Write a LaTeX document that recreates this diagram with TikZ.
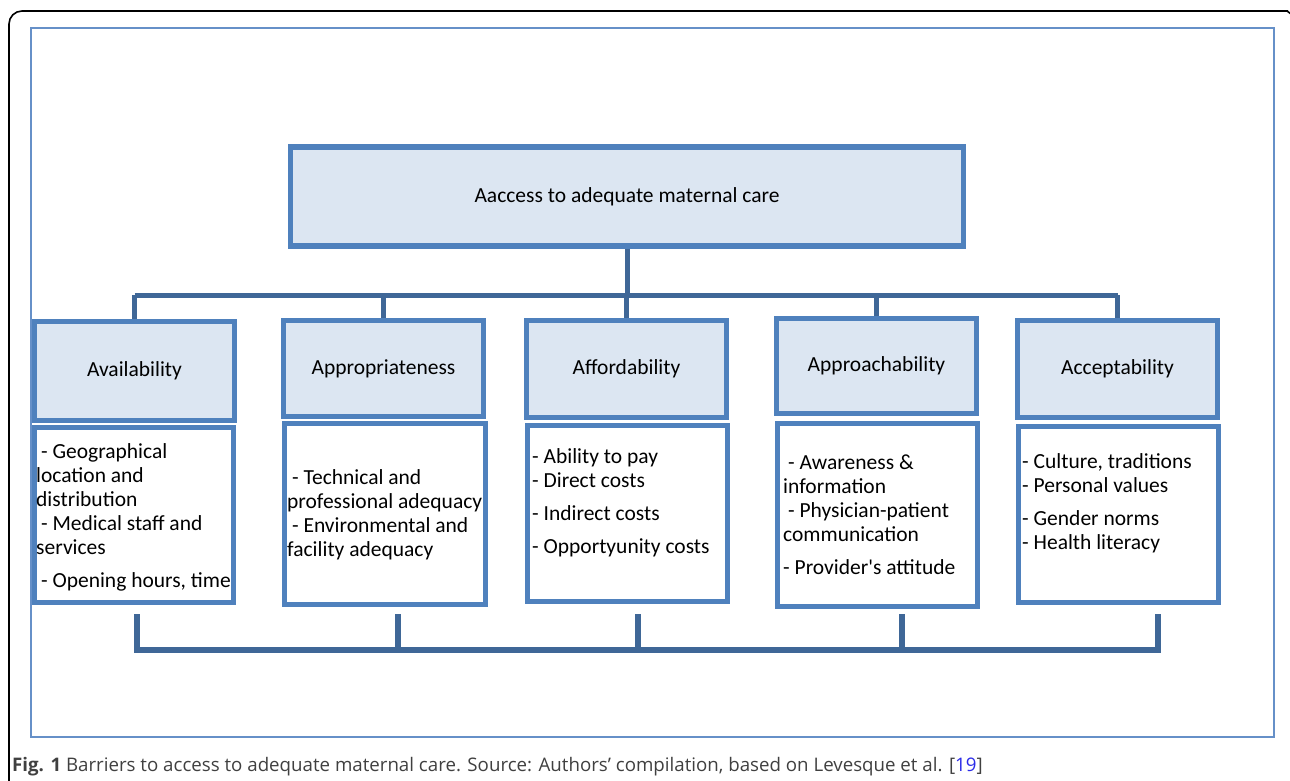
\documentclass[tikz,border=0pt]{standalone}
\usepackage{fontspec}
\setmainfont{Carlito}
\newfontfamily\capfont{Open Sans}
\usetikzlibrary{calc}
\definecolor{boxblue}{HTML}{4F81BD}
\definecolor{boxfill}{HTML}{DCE6F2}
\definecolor{linkblue}{HTML}{3F6797}
\definecolor{frameblue}{HTML}{6690C8}
\definecolor{capgray}{HTML}{404040}
\definecolor{citeblue}{HTML}{2B2BE8}
\newcommand\lsp{\hspace*{4.9pt}}
\begin{document}
\begin{tikzpicture}[x=1pt,y=-1pt,
  boxtext/.style={font=\fontsize{21.5}{24}\selectfont},
  topbox/.style={draw=boxblue, fill=boxfill, line width=5.5pt, inner sep=0pt, boxtext},
  hdrbox/.style={draw=boxblue, fill=boxfill, line width=5.5pt, inner sep=0pt, minimum width=200pt, boxtext},
  listbox/.style={draw=boxblue, fill=white, line width=5.5pt, inner sep=0pt, minimum width=200pt},
  listtext/.style={anchor=base west, inner sep=0pt, boxtext},
  link/.style={draw=linkblue, line width=5pt},
  bracket/.style={draw=linkblue, line width=5.5pt},
  shadowline/.style={draw=black, opacity=0.18, line width=6pt}
]
\useasboundingbox (0,0) rectangle (1290,780);
% outer frames
\draw[line width=1.6pt, rounded corners=13pt] (9,800) -- (9,11) -- (1288,11);
\draw[line width=1.6pt] (1287,11) -- (1291,14);
\draw[frameblue, line width=2pt] (31,28) rectangle (1274,737);

% top node
\node[topbox, minimum width=673pt, minimum height=99pt] (top) at (627,196.5) {Aaccess to adequate maternal care};

% headers
\node[hdrbox, minimum height=99pt] (h1) at (134.5,371) {Availability};
\node[hdrbox, minimum height=96pt] (h2) at (383.5,368.5) {Appropriateness};
\node[hdrbox, minimum height=97pt] (h3) at (626.5,369) {Affordability};
\node[hdrbox, minimum height=95pt] (h4) at (876.5,366) {Approachability};
\node[hdrbox, minimum height=97pt] (h5) at (1117.5,369) {Acceptability};

% list boxes
\node[listbox, minimum width=199pt, minimum height=175pt] (b1) at (134,515) {};
\node[listbox, minimum width=201pt, minimum height=181pt] (b2) at (385,514) {};
\node[listbox, minimum height=176pt] (b3) at (627.5,513.5) {};
\node[listbox, minimum height=183pt] (b4) at (877.5,515) {};
\node[listbox, minimum height=176pt] (b5) at (1118.5,514.5) {};

% list texts
\node[listtext] (t1) at (36,458) {\parbox[t]{200pt}{\raggedright
\lsp- Geographical\\ location and\\ distribution\\ \lsp- Medical staff and\\ services\\[9pt] \lsp- Opening hours, time}};
\node[listtext] (t2) at (287,484) {\parbox[t]{200pt}{\raggedright
\lsp- Technical and\\ professional adequacy\\ \lsp- Environmental and\\ facility adequacy}};
\node[listtext] (t3) at (532,463) {\parbox[t]{200pt}{\raggedright
- Ability to pay\\ - Direct costs\\[9pt] - Indirect costs\\[9pt] - Opportyunity costs}};
\node[listtext] (t4) at (783,469) {\parbox[t]{200pt}{\raggedright
\lsp- Awareness \&\\ information\\ \lsp- Physician-patient\\ communication\\[9pt] - Provider\textquotesingle s attitude}};
\node[listtext] (t5) at (1022,468) {\parbox[t]{200pt}{\raggedright
- Culture, traditions\\ - Personal values\\[9pt] - Gender norms\\ - Health literacy}};

% top connectors
\coordinate (bus) at (627,295);
\draw[link] (top.south) -- (top.south |- bus);
\draw[link] (h1.north |- bus) -- (h5.north |- bus);
\foreach \h in {h1,h2,h3,h4,h5} \draw[link] (\h.north |- bus) -- (\h.north);

% bottom bracket
\coordinate (k1) at (137,614);
\coordinate (k2) at (398,614);
\coordinate (k3) at (638,614);
\coordinate (k4) at (902,614);
\coordinate (k5) at (1158,614);
\coordinate (base) at (0,650);
\begin{scope}[shift={(2,3)}]
\draw[shadowline] (k1) |- (k5 |- base) -- (k5);
\foreach \k in {k2,k3,k4} \draw[shadowline] (\k) -- (\k |- base);
\end{scope}
\draw[bracket] (k1) |- (k5 |- base) -- (k5);
\foreach \k in {k2,k3,k4} \draw[bracket] (\k) -- (\k |- base);

% caption
\node[anchor=base west, inner sep=0pt, text=capgray, font=\capfont\fontsize{18.7}{22}\selectfont] (cap) at (12,771)
{\textbf{Fig. 1} Barriers to access to adequate maternal care. Source: Authors’ compilation, based on Levesque et al. [{\color{citeblue}19}]};
\end{tikzpicture}
\end{document}
